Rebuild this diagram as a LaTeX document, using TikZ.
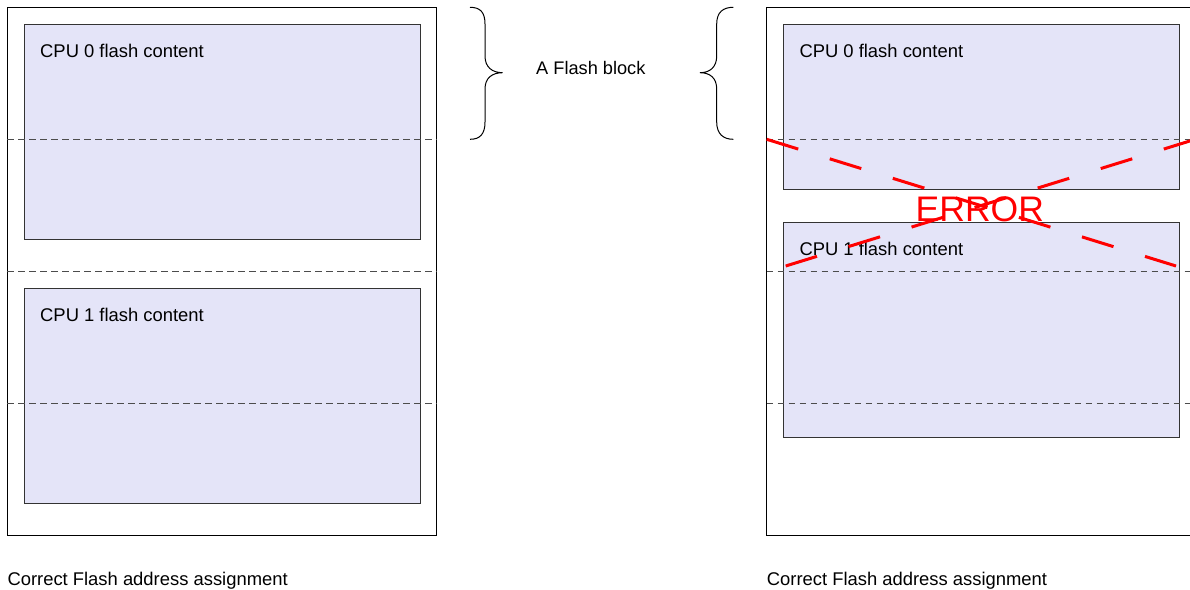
\documentclass[tikz,border=0pt]{standalone}
\usepackage{fontspec}
\setmainfont{Liberation Sans}
\begin{document}
\begin{tikzpicture}[x=1pt,y=-1pt,
  outerbox/.style={draw=black,line width=1pt},
  membox/.style={draw=black!80,fill=memfill,line width=1pt,anchor=north west,inner sep=0pt,minimum width=396pt},
  sep/.style={draw=black!70,line width=0.9pt,dash pattern=on 6.5pt off 4.5pt},
  lbl/.style={anchor=base west,inner sep=0pt,font=\fontsize{18.4}{22}\selectfont},
  brace/.style={draw=black,line width=1pt},
  errline/.style={draw=errred,line width=3pt,dash pattern=on 33pt off 33pt}]
\definecolor{memfill}{RGB}{228,228,248}
\definecolor{errred}{RGB}{255,0,0}
\useasboundingbox (0,0) rectangle (1190,589);
\clip (0,0) rectangle (1190,589);
% ---------- left column ----------
\draw[outerbox] (7.3,7.8) rectangle (436.5,535);
\node[membox,minimum height=214.5pt] (l0) at (23.7,24.2) {};
\node[membox,minimum height=214.5pt] (l1) at (23.7,288.2) {};
\node[lbl] (l0t) at (40,57) {CPU 0 flash content};
\node[lbl] (l1t) at (40,321) {CPU 1 flash content};
\draw[sep] (7.3,139.3) -- (436.5,139.3);
\draw[sep] (7.3,271.3) -- (436.5,271.3);
\draw[sep] (7.3,403.7) -- (436.5,403.7);
\node[lbl] (lcap) at (7.3,585) {Correct Flash address assignment};
% ---------- braces ----------
\draw[brace] (470,7.3) .. controls (480,7.3) and (485,12) .. (485,24) -- (485,56)
  .. controls (485,67) and (492,72.7) .. (502.7,72.7)
  .. controls (492,72.7) and (485,78) .. (485,89) -- (485,122)
  .. controls (485,134) and (480,139.3) .. (470,139.3);
\draw[brace] (733.3,7.3) .. controls (723.3,7.3) and (716.7,12) .. (716.7,24) -- (716.7,56)
  .. controls (716.7,67) and (710,72.7) .. (700,72.7)
  .. controls (710,72.7) and (716.7,78) .. (716.7,89) -- (716.7,122)
  .. controls (716.7,134) and (723.3,139.3) .. (733.3,139.3);
\node[anchor=base west,inner sep=0pt,font=\fontsize{18.2}{22}\selectfont] (fb) at (536,74) {A Flash block};
% ---------- right column ----------
\draw[outerbox] (766.7,7.8) rectangle (1200,535);
\node[membox,minimum height=165pt] (r0) at (782.7,24.2) {};
\node[membox,minimum height=214.5pt] (r1) at (782.7,222.2) {};
\node[lbl] (r0t) at (799.3,57) {CPU 0 flash content};
\node[lbl] (r1t) at (799.3,255) {CPU 1 flash content};
\draw[sep] (766.7,139.3) -- (1200,139.3);
\draw[sep] (766.7,271.3) -- (1200,271.3);
\draw[sep] (766.7,403.7) -- (1200,403.7);
\node[lbl] (rcap) at (766.7,585) {Correct Flash address assignment};
\node[anchor=base west,inner sep=0pt,text=errred,font=\fontsize{35.5}{40}\selectfont] (err) at (915.5,221.7) {ERROR};
\coordinate (a1) at (766.7,139.3);
\coordinate (a2) at (1176,266);
\coordinate (b1) at (1195.3,139.3);
\coordinate (b2) at (785.7,266);
\draw[errline] (a1) -- (a2);
\draw[errline] (b1) -- (b2);
\end{tikzpicture}
\end{document}
